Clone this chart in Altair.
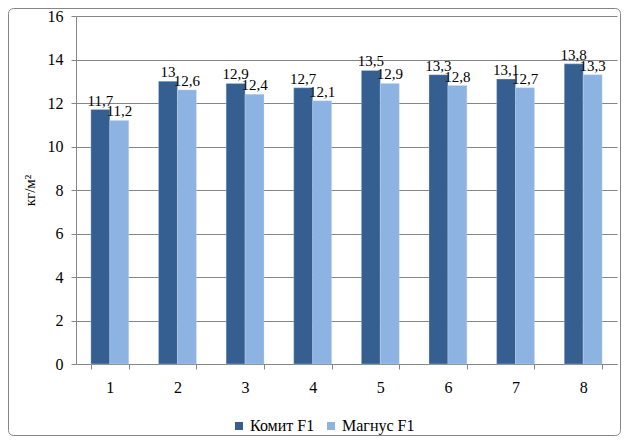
import altair as alt
import pandas as pd

categories = ["1", "2", "3", "4", "5", "6", "7", "8"]
komit = [11.7, 13.0, 12.9, 12.7, 13.5, 13.3, 13.1, 13.8]
magnus = [11.2, 12.6, 12.4, 12.1, 12.9, 12.8, 12.7, 13.3]
series_names = ["Комит F1", "Магнус F1"]
colors = ["#365f91", "#8db3e2"]

rows = []
for c, a, b in zip(categories, komit, magnus):
    for name, v in zip(series_names, (a, b)):
        rows.append({"cat": c, "series": name, "value": v,
                     "label": (f"{v:g}").replace(".", ",")})
df = pd.DataFrame(rows)

FONT = "Liberation Serif"

base = alt.Chart(df).encode(
    x=alt.X("cat:N", sort=categories,
            scale=alt.Scale(paddingInner=0.44, paddingOuter=0.22),
            axis=alt.Axis(title=None, labelAngle=0, tickBand="extent", tickSize=5,
                          labelPadding=10, domainColor="#868686", tickColor="#868686",
                          labelColor="black")),
    xOffset=alt.XOffset("series:N", sort=series_names,
                        scale=alt.Scale(paddingInner=0, paddingOuter=0)),
)

bars = base.mark_bar(stroke="#c6d9f1", strokeWidth=0.6, strokeOpacity=0.6).encode(
    y=alt.Y("value:Q", scale=alt.Scale(domain=[0, 16]),
            axis=alt.Axis(values=list(range(0, 17, 2)), title="кг/м²",
                          titleFontWeight="normal",
                          titleColor="black", titlePadding=10,
                          labelColor="black",
                          labelPadding=8, tickSize=5, tickColor="#868686",
                          domainColor="#868686", gridColor="#868686", gridWidth=1)),
    color=alt.Color("series:N", sort=series_names,
                    scale=alt.Scale(domain=series_names, range=colors),
                    legend=alt.Legend(title=None, orient="none", direction="horizontal",
                                      legendX=155, legendY=402, symbolType="square",
                                      symbolSize=64, symbolStrokeWidth=0,
                                      labelColor="black",
                                      columnPadding=8, labelOffset=3)),
)

labels = base.mark_text(baseline="bottom", dy=-1, color="black", fontSize=15).encode(
    y=alt.Y("value:Q"),
    text="label:N",
)

border = alt.Chart(pd.DataFrame({"a": [0]})).mark_rect(
    fill=None, stroke="#868686", strokeWidth=1, cornerRadius=5
).encode(
    x=alt.value(-67.5), x2=alt.value(544.5), y=alt.value(-7.5), y2=alt.value(419.5)
)

chart = alt.layer(bars, labels, border).properties(
    width=541, height=348,
    autosize=alt.AutoSizeParams(type="none"),
    padding={"left": 68, "top": 8, "right": 4, "bottom": 72},
).configure(font=FONT).configure_view(stroke=None).configure_axis(
    labelFont=FONT, labelFontSize=16, titleFont=FONT, titleFontSize=15
).configure_legend(labelFont=FONT, labelFontSize=16).configure_text(font=FONT)

chart.save("out.html", embed_options={"renderer": "svg", "actions": False})
